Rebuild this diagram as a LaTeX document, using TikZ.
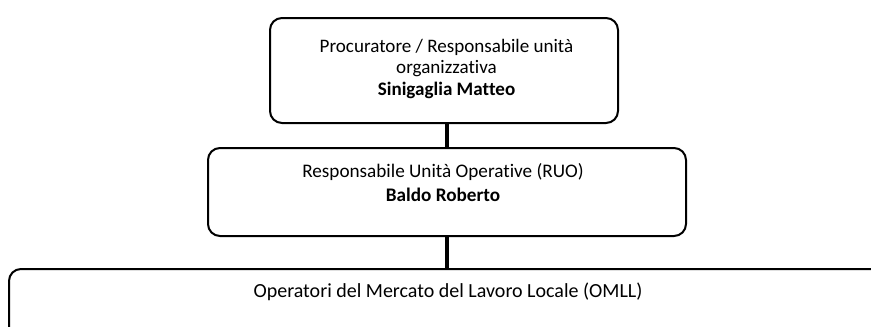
\documentclass[tikz,border=0pt]{standalone}
\usepackage{fontspec}
\setmainfont[Ligatures=NoCommon]{Carlito}
\begin{document}
\begin{tikzpicture}[x=0.75pt,y=-0.75pt,
  orgbox/.style={draw=black, line width=1.5pt, rounded corners=9pt, inner sep=0pt},
  orgtext/.style={anchor=base, align=center, inner sep=0pt, font=\fontsize{14.4pt}{17.3pt}\selectfont},
  link/.style={line width=3.5pt, draw=black}]
\useasboundingbox (0,0) rectangle (871,326);
\begin{scope}
\clip (0,0) rectangle (871,326);
\node[orgbox, minimum width=348*0.75pt, minimum height=105*0.75pt] (top) at (444,70.5) {};
\node[orgbox, minimum width=478*0.75pt, minimum height=88*0.75pt] (mid) at (447,192) {};
\node[orgbox, minimum width=900*0.75pt, minimum height=120*0.75pt, anchor=north west] (bot) at (8,268) {};
\draw[link] (top.south -| 447,0) -- (mid.north -| 447,0);
\draw[link] (mid.south) -- (mid.south |- bot.north);
\end{scope}
\node[orgtext, font=\fontsize{14.3pt}{16.1pt}\selectfont] (toptext) at (446.5,95) {Procuratore / Responsabile unità\\organizzativa\\\textbf{Sinigaglia Matteo}};
\node[orgtext] (midtext) at (443,201) {Responsabile Unità Operative (RUO)\\\textbf{Baldo Roberto}};
\node[orgtext, font=\fontsize{15pt}{18pt}\selectfont] (bottext) at (448,297) {Operatori del Mercato del Lavoro Locale (OMLL)};
\end{tikzpicture}
\end{document}
